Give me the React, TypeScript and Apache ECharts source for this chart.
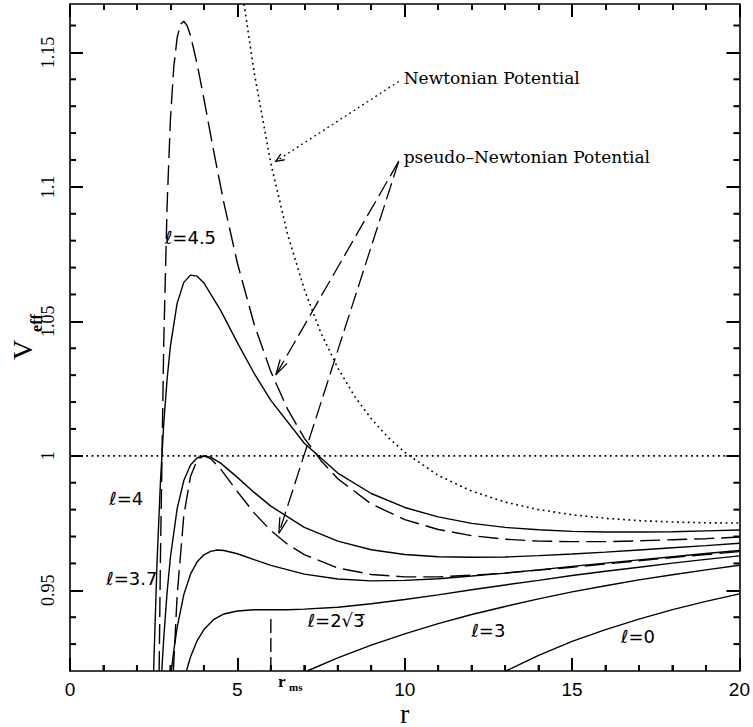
import React, { useEffect, useRef } from "react";
import * as echarts from "echarts";

// Axis ticks
const X_MAJOR = [0, 5, 10, 15, 20];
const X_MINOR = [1, 2, 3, 4, 6, 7, 8, 9, 11, 12, 13, 14, 16, 17, 18, 19];
const Y_MAJOR = [0.95, 1, 1.05, 1.1, 1.15];
const Y_MINOR = [0.93, 0.94, 0.96, 0.97, 0.98, 0.99, 1.01, 1.02, 1.03, 1.04, 1.06, 1.07, 1.08, 1.09, 1.11, 1.12, 1.13, 1.14, 1.16];
const X_RANGE: [number, number] = [0, 20];
const Y_RANGE: [number, number] = [0.92, 1.168];

// Effective potential, solid curves (r, V_eff)
const solidL45: [number, number][] = [
  [2.498, 0.92], [2.5, 0.9209], [2.6, 0.9602], [2.7, 0.9897], [2.8, 1.0118], [2.9, 1.0284], [3.0, 1.0408],
  [3.2, 1.0567], [3.4, 1.0645], [3.6, 1.0672], [3.8, 1.0668], [4.0, 1.0643], [4.5, 1.0541], [5, 1.0421],
  [5.5, 1.0307], [6, 1.0206], [7, 1.0047], [8, 0.9936], [9, 0.986], [10, 0.9808], [11, 0.9773], [12, 0.9749],
  [13, 0.9734], [14, 0.9725], [15, 0.9719], [16, 0.9717], [17, 0.9717], [18, 0.9718], [19, 0.9721], [20, 0.9724],
];
const solidL4: [number, number][] = [
  [2.742, 0.92], [2.8, 0.9321], [2.9, 0.9491], [3.0, 0.9623], [3.2, 0.9803], [3.4, 0.9908], [3.6, 0.9966],
  [3.8, 0.9993], [4.0, 1.0], [4.2, 0.9995], [4.5, 0.9973], [5, 0.992], [5.5, 0.9864], [6, 0.9813], [7, 0.9734],
  [8, 0.9683], [9, 0.9651], [10, 0.9633], [11, 0.9625], [12, 0.9623], [13, 0.9624], [14, 0.9629], [15, 0.9635],
  [16, 0.9642], [17, 0.965], [18, 0.9658], [19, 0.9666], [20, 0.9675],
];
const solidL37: [number, number][] = [
  [3.028, 0.92], [3.1, 0.9275], [3.2, 0.9361], [3.4, 0.9484], [3.6, 0.956], [3.8, 0.9606], [4.0, 0.9632],
  [4.2, 0.9645], [4.4, 0.965], [4.6, 0.9648], [5, 0.9636], [5.5, 0.9614], [6, 0.9593], [7, 0.956], [8, 0.9542],
  [9, 0.9535], [10, 0.9537], [11, 0.9543], [12, 0.9553], [13, 0.9564], [14, 0.9576], [15, 0.9589], [16, 0.9601],
  [17, 0.9613], [18, 0.9625], [19, 0.9637], [20, 0.9648],
];
const solidL2r3: [number, number][] = [
  [3.477, 0.92], [3.6, 0.9252], [3.8, 0.9313], [4.0, 0.9354], [4.3, 0.9392], [4.6, 0.9412], [5, 0.9423],
  [5.5, 0.9428], [6, 0.9428], [6.5, 0.9428], [7, 0.943], [8, 0.9437], [9, 0.945], [10, 0.9466], [11, 0.9483],
  [12, 0.9502], [13, 0.952], [14, 0.9537], [15, 0.9555], [16, 0.9571], [17, 0.9586], [18, 0.9601], [19, 0.9615],
  [20, 0.9628],
];
const solidL3: [number, number][] = [
  [7.085, 0.92], [8, 0.9249], [9, 0.9296], [10, 0.9338], [11, 0.9376], [12, 0.941], [13, 0.944], [14, 0.9468],
  [15, 0.9494], [16, 0.9517], [17, 0.9539], [18, 0.9558], [19, 0.9576], [20, 0.9593],
];
const solidL0: [number, number][] = [
  [13.021, 0.92], [14, 0.9258], [15, 0.931], [16, 0.9354], [17, 0.9393], [18, 0.9428], [19, 0.9459], [20, 0.9487],
];

// Pseudo-Newtonian curves (dashed)
const dashedL45: [number, number][] = [
  [2.6635, 0.92], [2.7, 0.9603], [2.8, 1.0415], [2.9, 1.0928], [3.0, 1.125], [3.1, 1.1445], [3.2, 1.1554],
  [3.3, 1.1605], [3.4, 1.1616], [3.5, 1.1599], [3.6, 1.1563], [3.8, 1.1456], [4.0, 1.1328], [4.3, 1.1128],
  [4.6, 1.0939], [5, 1.0717], [5.5, 1.049], [6, 1.0313], [6.5, 1.0174], [7, 1.0066], [7.5, 0.9982], [8, 0.9915],
  [9, 0.9821], [10, 0.9763], [11, 0.9726], [12, 0.9703], [13, 0.969], [14, 0.9683], [15, 0.9681], [16, 0.9681],
  [17, 0.9684], [18, 0.9688], [19, 0.9692], [20, 0.9698],
];
const dashedL4: [number, number][] = [
  [3.0886, 0.92], [3.2, 0.9479], [3.4, 0.9778], [3.6, 0.9923], [3.8, 0.9985], [4.0, 1.0], [4.2, 0.999],
  [4.5, 0.9951], [5, 0.9867], [5.5, 0.9788], [6, 0.9722], [6.5, 0.9671], [7, 0.9633], [8, 0.9583], [9, 0.9559],
  [10, 0.955], [11, 0.955], [12, 0.9556], [13, 0.9564], [14, 0.9575], [15, 0.9586], [16, 0.9598], [17, 0.961],
  [18, 0.9622], [19, 0.9633], [20, 0.9644],
];

// Newtonian curve (dotted)
const dottedNewton: [number, number][] = [
  [5.2, 1.168], [5.5, 1.1427], [6, 1.1087], [6.5, 1.0824], [7, 1.0619], [7.5, 1.0456], [8, 1.0327],
  [8.5, 1.0222], [9, 1.0138], [9.5, 1.0069], [10, 1.0013], [11, 0.9927], [12, 0.9869], [13, 0.9828],
  [14, 0.98], [15, 0.9781], [16, 0.9768], [17, 0.9759], [18, 0.9754], [19, 0.9751], [20, 0.975],
];

const unityLine: [number, number][] = [[0, 1], [20, 1]];
const rmsMarker: [number, number][] = [[6, 0.92], [6, 0.9408]];

// Curve labels: r, V, text
const curveLabelPos: [number, number][] = [[3.6, 1.081], [1.68, 0.984], [1.85, 0.9545], [7.95, 0.9386], [12.5, 0.9349], [16.97, 0.9327]];
const curveLabelText = ["ℓ=4.5", "ℓ=4", "ℓ=3.7", "ℓ=2√3\u0305", "ℓ=3", "ℓ=0"];

// Annotation texts (left-aligned)
const noteTextPos: [number, number][] = [[9.97, 1.1406], [9.97, 1.1112]];
const noteText = ["Newtonian Potential", "pseudo\u2013Newtonian Potential"];

// Arrows: from r, from V, to r, to V, style (0 dotted, 1 dashed)
const arrows: number[][] = [
  [9.82, 1.1392, 6.15, 1.1095, 0],
  [9.82, 1.1095, 6.15, 1.0301, 1],
  [9.82, 1.1095, 6.24, 0.9712, 1],
];

const BLACK = "#000";
const solidStyle = { color: BLACK, width: 1.4, type: "solid" as const };
const dashedStyle = { color: BLACK, width: 1.4, type: [20, 7] };
const dottedStyle = { color: BLACK, width: 1.6, type: [1.8, 3.6] };

function lineSeries(data: any[], lineStyle: any) {
  return { type: "line", data, showSymbol: false, symbol: "none", lineStyle };
}

export default function App() {
  const ref = useRef<HTMLDivElement>(null);

  useEffect(() => {
    document.body.style.margin = "0";
    if (!ref.current) return;
    const chart = echarts.init(ref.current, undefined, { renderer: "svg" });

    const axisLine = { show: true, onZero: false, lineStyle: { color: BLACK, width: 1.6 } };
    const tickLine = { color: BLACK, width: 2 };

    chart.setOption({
      animation: false,
      grid: { left: 70, right: 11, top: 4, bottom: 56 },
      xAxis: [
        {
          type: "value", min: X_RANGE[0], max: X_RANGE[1], interval: 5, position: "bottom",
          axisLine, splitLine: { show: false },
          axisTick: { show: true, inside: true, length: 13, lineStyle: tickLine },
          minorTick: { show: true, splitNumber: 5, length: 6, lineStyle: tickLine },
          axisLabel: { margin: 9, color: BLACK, fontSize: 19, fontFamily: "Liberation Sans" },
        },
        {
          type: "value", min: X_RANGE[0], max: X_RANGE[1], interval: 5, position: "top",
          axisLine, splitLine: { show: false },
          axisTick: { show: true, inside: true, length: 13, lineStyle: tickLine },
          minorTick: { show: true, splitNumber: 5, length: 6, lineStyle: tickLine },
          axisLabel: { show: false },
        },
      ],
      yAxis: [
        {
          type: "value", min: Y_RANGE[0], max: Y_RANGE[1], position: "left",
          axisLine, splitLine: { show: false },
          axisTick: { show: true, inside: true, length: 13, lineStyle: tickLine, customValues: Y_MAJOR },
          axisLabel: {
            customValues: Y_MAJOR, rotate: 90, margin: 13, color: BLACK, fontSize: 18,
            fontFamily: "Liberation Serif", formatter: (v: number) => String(+v.toFixed(2)),
          },
        },
        {
          type: "value", min: Y_RANGE[0], max: Y_RANGE[1], position: "right",
          axisLine, splitLine: { show: false },
          axisTick: { show: true, inside: true, length: 13, lineStyle: tickLine, customValues: Y_MAJOR },
          axisLabel: { show: false },
        },
      ],
      series: [
        lineSeries(unityLine, dottedStyle),
        lineSeries(dottedNewton, dottedStyle),
        lineSeries(solidL45, solidStyle),
        lineSeries(solidL4, solidStyle),
        lineSeries(solidL37, solidStyle),
        lineSeries(solidL2r3, solidStyle),
        lineSeries(solidL3, solidStyle),
        lineSeries(solidL0, solidStyle),
        lineSeries(dashedL45, dashedStyle),
        lineSeries(dashedL4, dashedStyle),
        lineSeries(rmsMarker, { color: BLACK, width: 1.4, type: [14, 5] }),
        {
          type: "custom",
          coordinateSystem: "cartesian2d",
          data: arrows,
          encode: { x: [0, 2], y: [1, 3] },
          clip: false,
          renderItem: (_p: any, api: any) => {
            const p1 = api.coord([api.value(0), api.value(1)]);
            const p2 = api.coord([api.value(2), api.value(3)]);
            const kind = api.value(4);
            const ang = Math.atan2(p2[1] - p1[1], p2[0] - p1[0]);
            const head = kind === 0 ? 9 : 16;
            const spread = kind === 0 ? 0.4 : 0.25;
            const a = [p2[0] - head * Math.cos(ang - spread), p2[1] - head * Math.sin(ang - spread)];
            const b = [p2[0] - head * Math.cos(ang + spread), p2[1] - head * Math.sin(ang + spread)];
            const dash = kind === 0 ? [1.8, 3.4] : [17, 6];
            return {
              type: "group",
              children: [
                { type: "line", shape: { x1: p1[0], y1: p1[1], x2: p2[0], y2: p2[1] }, style: { stroke: BLACK, lineWidth: 1.3, lineDash: dash } },
                { type: "polyline", shape: { points: [a, p2, b] }, style: { stroke: BLACK, lineWidth: 1.3, fill: null } },
              ],
            };
          },
        },
        {
          type: "custom",
          coordinateSystem: "cartesian2d",
          data: curveLabelPos.map((p, i) => [p[0], p[1], i]),
          clip: false,
          renderItem: (_p: any, api: any) => {
            const p = api.coord([api.value(0), api.value(1)]);
            return {
              type: "text", x: p[0], y: p[1],
              style: { text: curveLabelText[api.value(2)], fill: BLACK, font: "18px 'DejaVu Sans'", align: "center", verticalAlign: "middle" },
            };
          },
        },
        {
          type: "custom",
          coordinateSystem: "cartesian2d",
          data: noteTextPos.map((p, i) => [p[0], p[1], i]),
          clip: false,
          renderItem: (_p: any, api: any) => {
            const p = api.coord([api.value(0), api.value(1)]);
            return {
              type: "text", x: p[0], y: p[1],
              style: { text: noteText[api.value(2)], fill: BLACK, font: "17px 'DejaVu Serif'", align: "left", verticalAlign: "middle" },
            };
          },
        },
      ],
    });

    // Small ticks on the y sides and extra labels, positioned through the axis scales
    const px = (v: number) => chart.convertToPixel({ xAxisIndex: 0 }, v) as number;
    const py = (v: number) => chart.convertToPixel({ yAxisIndex: 0 }, v) as number;
    const x0 = px(X_RANGE[0]);
    const x1 = px(X_RANGE[1]);
    const y0 = py(Y_RANGE[0]);
    const els: any[] = [];
    Y_MINOR.forEach((v) => {
      const y = py(v);
      els.push({ type: "line", z: 100, shape: { x1: x0, y1: y, x2: x0 + 6, y2: y }, style: { stroke: BLACK, lineWidth: 2 } });
      els.push({ type: "line", z: 100, shape: { x1: x1, y1: y, x2: x1 - 6, y2: y }, style: { stroke: BLACK, lineWidth: 2 } });
    });
    X_MINOR.forEach((v) => {
      const x = px(v);
      els.push({ type: "line", z: 100, shape: { x1: x, y1: y0, x2: x, y2: y0 - 6 }, style: { stroke: BLACK, lineWidth: 2 } });
    });
    els.push(
      { type: "text", x: (x0 + x1) / 2, y: 713, style: { text: "r", font: "28px 'Liberation Serif'", fill: BLACK, align: "center", verticalAlign: "middle" } },
      { type: "text", x: px(6) + 11, y: y0 + 10, style: { text: "r", font: "bold 17px 'Liberation Serif'", fill: BLACK, align: "center", verticalAlign: "middle" } },
      { type: "text", x: px(6) + 25, y: y0 + 16, style: { text: "ms", font: "bold 11px 'Liberation Serif'", fill: BLACK, align: "center", verticalAlign: "middle" } },
      { type: "text", x: 22, y: 350, rotation: Math.PI / 2, style: { text: "V", font: "28px 'Liberation Serif'", fill: BLACK, align: "center", verticalAlign: "middle" } },
      { type: "text", x: 36, y: 323, rotation: Math.PI / 2, style: { text: "eff", font: "bold 16px 'Liberation Serif'", fill: BLACK, align: "center", verticalAlign: "middle" } },
    );
    chart.setOption({ graphic: els });

    return () => chart.dispose();
  }, []);

  return <div ref={ref} style={{ width: 753, height: 727 }} />;
}
